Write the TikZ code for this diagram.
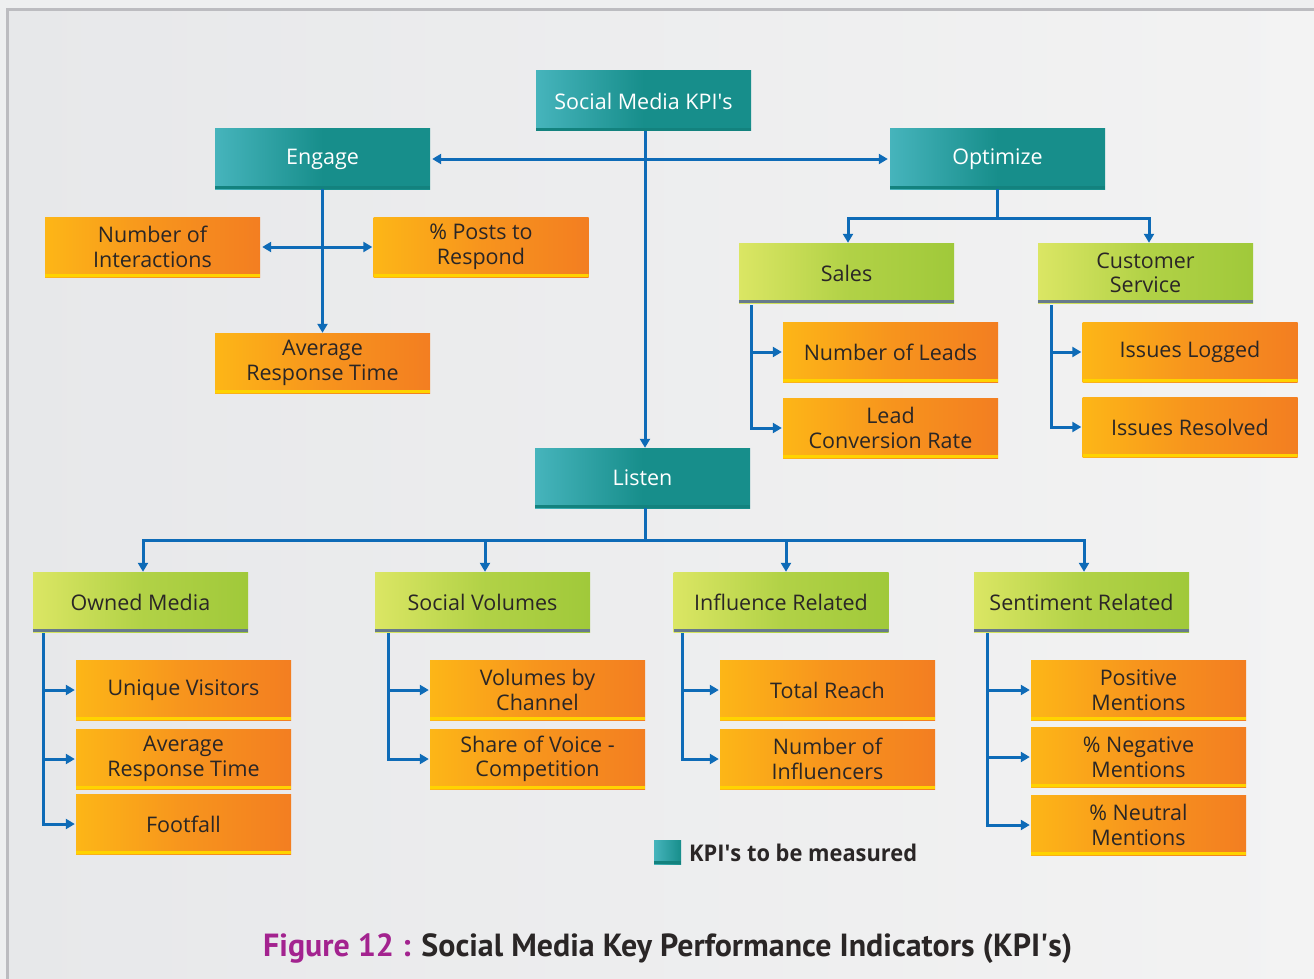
\documentclass[tikz,border=0pt]{standalone}
\usepackage{fontspec}
\setmainfont{Open Sans}
\newfontfamily\capfont{PT Sans}
\usetikzlibrary{arrows.meta}

\definecolor{tealA}{HTML}{46B4BC}
\definecolor{tealB}{HTML}{178E8B}
\definecolor{tealS}{HTML}{13827E}
\definecolor{greenA}{HTML}{DBE664}
\definecolor{greenB}{HTML}{A0C93A}
\definecolor{greenS}{HTML}{687B8B}
\definecolor{orangeA}{HTML}{FDB617}
\definecolor{orangeB}{HTML}{F37E21}
\definecolor{orangeS}{HTML}{FFD300}
\definecolor{linkblue}{HTML}{0E6BB7}
\definecolor{ink}{HTML}{2A2626}
\definecolor{figmag}{HTML}{A3238F}
\definecolor{paperA}{HTML}{E7E8EA}
\definecolor{paperB}{HTML}{F3F3F3}
\definecolor{frameline}{HTML}{BCBCC0}

\newcommand{\apos}{\textquotesingle}

\tikzset{
  strip/.style={path picture={\fill[#1] (path picture bounding box.south west) rectangle ([yshift=2.6pt]path picture bounding box.south east);}},
  box/.style={rectangle, inner sep=0pt, minimum width=215pt, minimum height=60pt,
    align=center, font=\fontsize{21.5}{24.5}\selectfont},
  kpibox/.style={box, left color=tealA, right color=tealB, middle color=tealB, text=white, strip=tealS},
  groupbox/.style={box, left color=greenA, right color=greenB, middle color=greenB!70!greenA, text=ink, strip=greenS},
  metricbox/.style={box, left color=orangeA, right color=orangeB, middle color=orangeB!60!orangeA, text=ink, strip=orangeS},
  tip/.tip={Triangle[length=9pt,width=10pt]},
  link/.style={draw=linkblue, line width=3pt},
  arr/.style={link, -tip},
  darr/.style={link, tip-tip},
}

\begin{document}
\begin{tikzpicture}[x=1pt, y=-1pt]
  \useasboundingbox (0,0) rectangle (1314,979);
  % page and framed panel
  \fill[paperA!70!white] (0,0) rectangle (1314,979);
  \shade[left color=paperA, right color=paperB] (7,10) rectangle (1320,985);
  \draw[frameline, line width=3pt] (7,990) -- (7,10) -- (1320,10);

  % top level
  \node[kpibox] (kpi) at (643.5,101) {Social Media KPI\apos s};
  \node[kpibox] (engage) at (322.5,159) {Engage};
  \node[kpibox] (optimize) at (997.5,159) {Optimize};
  \node[kpibox] (listen) at (642.5,478) {Listen};

  % engage metrics
  \node[metricbox] (nint) at (152.5,247) {Number of\\Interactions};
  \node[metricbox] (posts) at (481,247) {\% Posts to\\Respond};
  \node[metricbox] (avgE) at (322.5,363) {Average\\Response Time};

  % optimize groups and metrics
  \node[groupbox] (sales) at (846.5,273) {Sales};
  \node[groupbox] (cserv) at (1145.5,273) {Customer\\Service};
  \node[metricbox] (leads) at (890.5,352) {Number of Leads};
  \node[metricbox] (lconv) at (890.5,428) {Lead\\Conversion Rate};
  \node[metricbox] (ilog) at (1190,352) {Issues Logged};
  \node[metricbox] (ires) at (1190,427) {Issues Resolved};

  % listen groups
  \node[groupbox] (owned) at (140.5,602) {Owned Media};
  \node[groupbox] (socvol) at (482.5,602) {Social Volumes};
  \node[groupbox] (infl) at (781,602) {Influence Related};
  \node[groupbox] (senti) at (1081.5,602) {Sentiment Related};

  % listen metrics
  \node[metricbox] (uniq) at (183.5,690) {Unique Visitors};
  \node[metricbox] (avgO) at (183.5,759) {Average\\Response Time};
  \node[metricbox] (foot) at (183.5,824) {Footfall};
  \node[metricbox] (volch) at (537.5,690) {Volumes by\\Channel};
  \node[metricbox] (sov) at (537.5,759) {Share of Voice -\\Competition};
  \node[metricbox] (reach) at (827.5,690) {Total Reach};
  \node[metricbox] (ninf) at (827.5,759) {Number of\\Influencers};
  \node[metricbox] (pos) at (1138.5,690) {Positive\\Mentions};
  \node[metricbox] (neg) at (1138.5,757) {\% Negative\\Mentions};
  \node[metricbox] (neu) at (1138.5,825) {\% Neutral\\Mentions};

  % connectors: top level
  \draw[arr] ([xshift=1.5pt]kpi.south) -- ([xshift=1.5pt]kpi.south |- listen.north);
  \draw[darr] ([xshift=2pt]engage.east) -- ([xshift=-2pt]optimize.west);

  % connectors: engage
  \draw[arr] (engage.south) -- (avgE.north);
  \draw[darr] ([xshift=2pt]nint.east) -- ([xshift=-1pt]posts.west);

  % connectors: optimize
  \draw[arr] (optimize.south) -- ++(0,29) -| ([xshift=1.5pt]sales.north);
  \draw[arr] (optimize.south) -- ++(0,29) -| ([xshift=3.5pt]cserv.north);
  \draw[arr] ([xshift=13pt,yshift=-2pt]sales.south west) |- ([xshift=-1pt]leads.west);
  \draw[arr] ([xshift=13pt,yshift=-2pt]sales.south west) |- ([xshift=-1pt]lconv.west);
  \draw[arr] ([xshift=14pt,yshift=-2pt]cserv.south west) |- ([xshift=-1pt]ilog.west);
  \draw[arr] ([xshift=14pt,yshift=-2pt]cserv.south west) |- ([xshift=-1pt]ires.west);

  % connectors: listen
  \draw[arr] ([xshift=2.5pt]listen.south) -- ++(0,32) -| ([xshift=2.5pt]owned.north);
  \draw[arr] ([xshift=2.5pt]listen.south) -- ++(0,32) -| ([xshift=2.5pt]socvol.north);
  \draw[arr] ([xshift=2.5pt]listen.south) -- ++(0,32) -| ([xshift=5pt]infl.north);
  \draw[arr] ([xshift=2.5pt]listen.south) -- ++(0,32) -| ([xshift=2.5pt]senti.north);

  \draw[arr] ([xshift=11pt,yshift=-1pt]owned.south west) |- ([xshift=-1pt]uniq.west);
  \draw[arr] ([xshift=11pt,yshift=-1pt]owned.south west) |- ([xshift=-1pt]avgO.west);
  \draw[arr] ([xshift=11pt,yshift=-1pt]owned.south west) |- ([xshift=-1pt]foot.west);
  \draw[arr] ([xshift=14pt,yshift=-1pt]socvol.south west) |- ([xshift=-1pt]volch.west);
  \draw[arr] ([xshift=14pt,yshift=-1pt]socvol.south west) |- ([xshift=-1pt]sov.west);
  \draw[arr] ([xshift=9pt,yshift=-1pt]infl.south west) |- ([xshift=-1pt]reach.west);
  \draw[arr] ([xshift=9pt,yshift=-1pt]infl.south west) |- ([xshift=-1pt]ninf.west);
  \draw[arr] ([xshift=14pt,yshift=-1pt]senti.south west) |- ([xshift=-1pt]pos.west);
  \draw[arr] ([xshift=14pt,yshift=-1pt]senti.south west) |- ([xshift=-1pt]neg.west);
  \draw[arr] ([xshift=14pt,yshift=-1pt]senti.south west) |- ([xshift=-1pt]neu.west);

  % legend
  \node[rectangle, inner sep=0pt, minimum width=27pt, minimum height=24pt,
        left color=tealA, right color=tealB, strip=tealS] (legsq) at (667.5,852) {};
  \node[anchor=base west, inner sep=0pt, text=ink,
        font=\bfseries\fontsize{23}{26}\selectfont] (legtxt) at (689,861)
        {\resizebox{228pt}{\height}{KPI\apos s to be measured}};

  % caption
  \node[anchor=base west, inner sep=0pt, text=ink,
        font=\capfont\bfseries\fontsize{32}{36}\selectfont] (caption) at (263,956)
        {\resizebox{809pt}{\height}{\textcolor{figmag}{Figure 12 :} Social Media Key Performance Indicators (KPI\apos s)}};
\end{tikzpicture}
\end{document}
